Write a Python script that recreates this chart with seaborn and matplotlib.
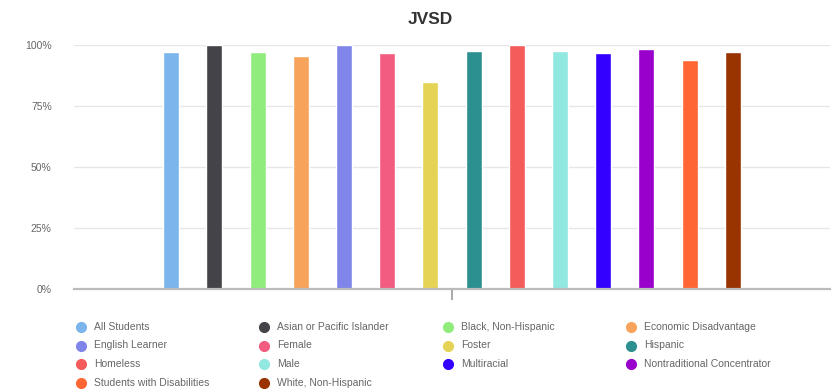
import pandas as pd
import matplotlib.pyplot as plt
import seaborn as sns
from matplotlib.lines import Line2D
from matplotlib.ticker import PercentFormatter

# Data
groups = [
    "All Students", "Asian or Pacific Islander", "Black, Non-Hispanic",
    "Economic Disadvantage", "English Learner", "Female", "Foster",
    "Hispanic", "Homeless", "Male", "Multiracial",
    "Nontraditional Concentrator", "Students with Disabilities",
    "White, Non-Hispanic",
]
values = [97.0, 100.0, 97.0, 95.4, 100.0, 96.7, 85.0,
          97.4, 100.0, 97.4, 96.7, 98.4, 93.7, 97.0]
colors = ["#7cb5ec", "#434348", "#90ed7d", "#f7a35c", "#8085e9", "#f15c80",
          "#e4d354", "#2b908f", "#f45b5b", "#91e8e1", "#3300ff", "#9900cc",
          "#ff6633", "#993300"]
yticks = [0, 25, 50, 75, 100]

df = pd.DataFrame({"district": [""] * len(groups), "group": groups, "value": values})
palette = dict(zip(groups, colors))

sns.set_style("white")
plt.rcParams["font.family"] = ["Liberation Sans", "DejaVu Sans"]

fig = plt.figure(figsize=(8.36, 3.9), dpi=100)
ax = fig.add_axes([74 / 836, 1 - 289 / 390, (830 - 74) / 836, (289 - 45) / 390])

sns.barplot(data=df, x="district", y="value", hue="group", hue_order=groups,
            palette=palette, width=0.8, gap=0.63, saturation=1,
            legend=False, ax=ax)

ax.set_ylim(0, 100)
ax.set_yticks(yticks)
ax.yaxis.set_major_formatter(PercentFormatter(decimals=0))
ax.set_xlabel("")
ax.set_ylabel("")
ax.set_xticks([0])
ax.set_xticklabels([""])
ax.tick_params(axis="y", length=0, pad=16, labelsize=7.5, labelcolor="#666666")
ax.tick_params(axis="x", bottom=True, length=8, width=1.2, color="#999999",
               direction="out")
ax.grid(axis="y", color="#e6e6e6", lw=1)
ax.set_axisbelow(True)
for s in ["top", "left", "right"]:
    ax.spines[s].set_visible(False)
ax.spines["bottom"].set_color("#bbbbbb")
ax.spines["bottom"].set_linewidth(1.6)
ax.spines["bottom"].set_zorder(5)

fig.text(430 / 836, 1 - 19 / 390, "JVSD", ha="center", va="center",
         fontsize=12.5, fontweight="bold", color="#333333")

# Legend laid out row by row, four columns
col_x = [81, 264, 448, 631]
row_y = [327, 345.5, 364, 382.5]
for i, (name, c) in enumerate(zip(groups, colors)):
    r, k = divmod(i, 4)
    x = col_x[k] / 836
    y = 1 - row_y[r] / 390
    fig.add_artist(Line2D([x], [y], marker="o", markersize=7, color=c,
                          linestyle="none", transform=fig.transFigure))
    fig.text(x + 13 / 836, y, name, ha="left", va="center",
             fontsize=7.5, color="#666666")

fig.savefig("out.png", dpi=100)
